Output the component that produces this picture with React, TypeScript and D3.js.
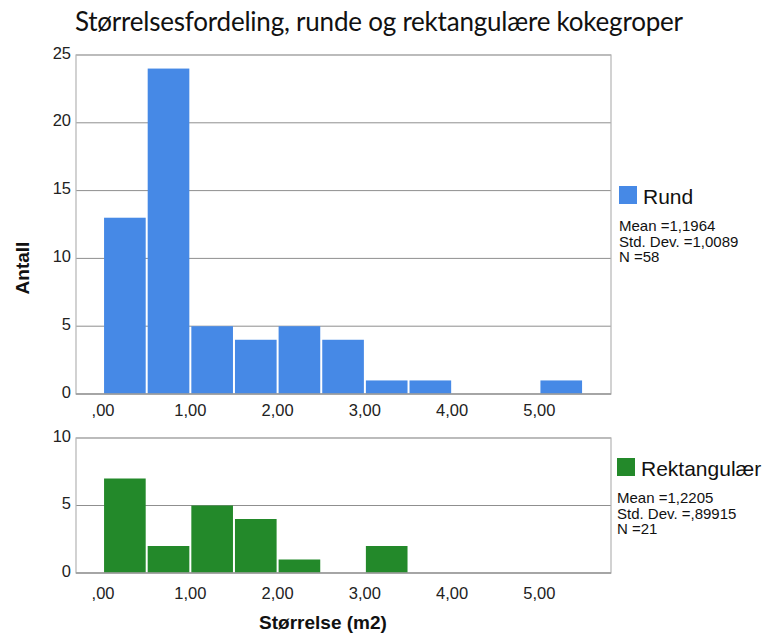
import React from "react";
import * as d3 from "d3";

const title = "Størrelsesfordeling, runde og rektangulære kokegroper";
const binStarts = [0, 0.5, 1.0, 1.5, 2.0, 2.5, 3.0, 3.5, 4.0, 4.5, 5.0];
const binWidth = 0.5;
const rundCounts = [13, 24, 5, 4, 5, 4, 1, 1, 0, 0, 1];
const rektCounts = [7, 2, 5, 4, 1, 0, 2, 0, 0, 0, 0];
const xTicks = [0, 1, 2, 3, 4, 5];
const yTopTicks = [0, 5, 10, 15, 20, 25];
const yBotTicks = [0, 5, 10];
const rundStats = ["Mean =1,1964", "Std. Dev. =1,0089", "N =58"];
const rektStats = ["Mean =1,2205", "Std. Dev. =,89915", "N =21"];

const BLUE = "#4689e6";
const GREEN = "#23892a";
const GRID = "#8f8f8f";
const FRAME = "#b4b4b4";
const FONT = "'Liberation Sans', Arial, Helvetica, sans-serif";

const fmtX = (d: number) => (d === 0 ? ",00" : d.toFixed(2).replace(".", ","));

export default function App() {
  const left = 76, right = 611;
  const x = d3.scaleLinear().domain([-0.31, 5.82]).range([left, right]);
  const yTop = d3.scaleLinear().domain([0, 25]).range([394, 55]);
  const yBot = d3.scaleLinear().domain([0, 10]).range([573, 438]);

  const panel = (
    y: d3.ScaleLinear<number, number>,
    ticks: number[],
    counts: number[],
    color: string,
    labelOffset: number
  ) => {
    const [y0, y1] = y.range();
    return (
      <g>
        {ticks.map((t) => (
          <line key={"g" + t} x1={left} x2={right} y1={y(t)} y2={y(t)} stroke={GRID} strokeWidth={1} />
        ))}
        {counts.map((c, i) =>
          c > 0 ? (
            <rect
              key={"b" + i}
              x={x(binStarts[i]) + 1}
              width={x(binStarts[i] + binWidth) - x(binStarts[i]) - 2}
              y={y(c)}
              height={y(0) - y(c)}
              fill={color}
            />
          ) : null
        )}
        <rect x={left} y={y1} width={right - left} height={y0 - y1} fill="none" stroke={FRAME} strokeWidth={1.2} />
        <line x1={left} x2={right} y1={y0} y2={y0} stroke={GRID} strokeWidth={1} />
        {ticks.map((t) => (
          <text key={"yl" + t} x={71} y={y(t) + 3.5} textAnchor="end" fontSize={16.5} fontFamily={FONT} fill="#222">
            {t}
          </text>
        ))}
        {xTicks.map((t) => (
          <text key={"xl" + t} x={x(t)} y={y0 + labelOffset} textAnchor="middle" fontSize={16.5} fontFamily={FONT} fill="#222">
            {fmtX(t)}
          </text>
        ))}
      </g>
    );
  };

  const legend = (lx: number, sy: number, color: string, name: string, stats: string[]) => (
    <g>
      <rect x={lx} y={sy} width={18} height={18} fill={color} />
      <text x={lx + 24} y={sy + 18} fontSize={21} fontFamily={FONT} fill="#111">
        {name}
      </text>
      {stats.map((s, i) => (
        <text key={i} x={lx} y={sy + 45 + i * 15.5} fontSize={15} fontFamily={FONT} fill="#111">
          {s}
        </text>
      ))}
    </g>
  );

  return (
    <svg
      width={767}
      height={634}
      style={{ position: "absolute", left: 0, top: 0, background: "#fff" }}
    >
      <rect width={767} height={634} fill="#fff" />
      <text x={75} y={31} fontSize={26} fontFamily="Lato, 'Liberation Sans Narrow', sans-serif" fill="#111" textLength={608} lengthAdjust="spacing">
        {title}
      </text>
      {panel(yTop, yTopTicks, rundCounts, BLUE, 22)}
      {panel(yBot, yBotTicks, rektCounts, GREEN, 26)}
      {legend(619, 186, BLUE, "Rund", rundStats)}
      {legend(617, 458, GREEN, "Rektangulær", rektStats)}
      <text
        transform={`translate(29,268) rotate(-90)`}
        textAnchor="middle"
        fontSize={19}
        fontWeight="bold"
        fontFamily={FONT}
        fill="#111"
      >
        Antall
      </text>
      <text x={323} y={629} textAnchor="middle" fontSize={19} fontWeight="bold" fontFamily={FONT} fill="#111">
        Størrelse (m2)
      </text>
    </svg>
  );
}
